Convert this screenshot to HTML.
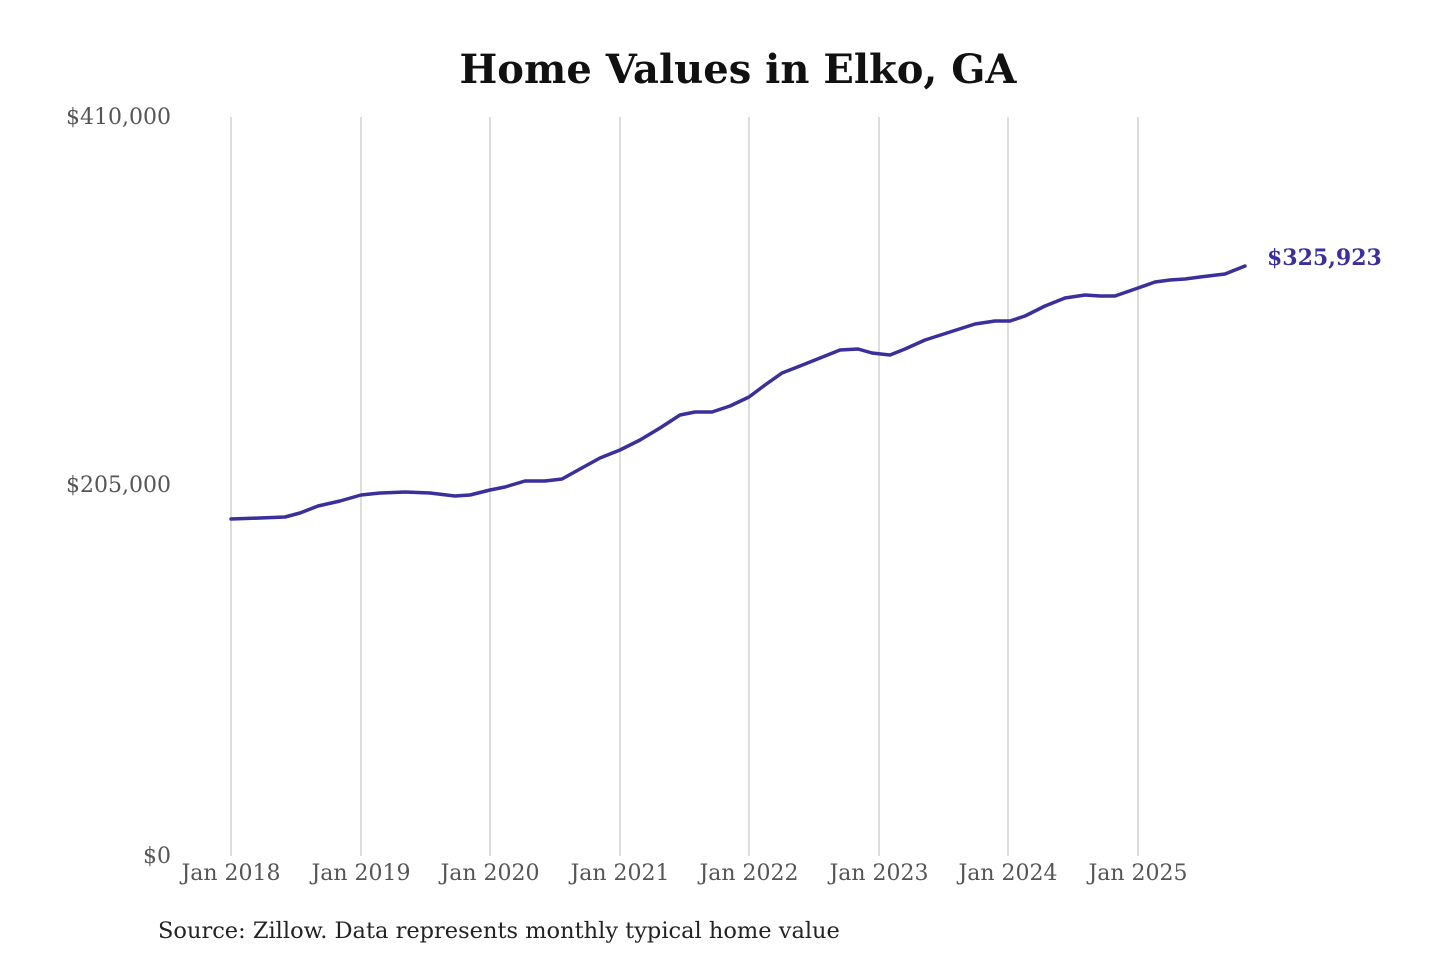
<!DOCTYPE html>
<html><head><meta charset="utf-8"><style>
html,body{margin:0;padding:0;background:#fff;}
svg{display:block;}
</style></head><body>
<svg width="1440" height="960" xmlns="http://www.w3.org/2000/svg" font-family="'DejaVu Serif','Liberation Serif',serif">
<text x="738" y="83" text-anchor="middle" font-size="40" font-weight="bold" fill="#111">Home Values in Elko, GA</text>
<g stroke="#bbb" stroke-width="1">
<line x1="231" y1="117" x2="231" y2="856"/>
<line x1="361" y1="117" x2="361" y2="856"/>
<line x1="490" y1="117" x2="490" y2="856"/>
<line x1="620" y1="117" x2="620" y2="856"/>
<line x1="749" y1="117" x2="749" y2="856"/>
<line x1="879" y1="117" x2="879" y2="856"/>
<line x1="1008" y1="117" x2="1008" y2="856"/>
<line x1="1138" y1="117" x2="1138" y2="856"/>
</g>
<g font-size="22" fill="#555" text-anchor="end">
<text x="171" y="124">$410,000</text>
<text x="171" y="492">$205,000</text>
<text x="171" y="863">$0</text>
</g>
<g font-size="22" fill="#555" text-anchor="middle">
<text x="231" y="880">Jan 2018</text>
<text x="361" y="880">Jan 2019</text>
<text x="490" y="880">Jan 2020</text>
<text x="620" y="880">Jan 2021</text>
<text x="749" y="880">Jan 2022</text>
<text x="879" y="880">Jan 2023</text>
<text x="1008" y="880">Jan 2024</text>
<text x="1138" y="880">Jan 2025</text>
</g>
<polyline fill="none" stroke="#3a2f9b" stroke-width="3.5" stroke-linejoin="round" stroke-linecap="round" points="231,519 260,518 285,517 300,513 318,506 340,501 361,495 380,493 405,492 430,493 455,496 470,495 490,490 505,487 525,481 545,481 562,479 580,469 600,458 620,450 640,440 660,428 680,415 695,412 712,412 730,406 749,397 765,385 782,373 800,366 820,358 840,350 858,349 872,353 890,355 905,349 925,340 950,332 975,324 995,321 1010,321 1025,316 1045,306 1065,298 1085,295 1100,296 1115,296 1138,288 1155,282 1170,280 1185,279 1200,277 1225,274 1245,266"/>
<text x="1267" y="265" font-size="22" font-weight="bold" fill="#3a2f9b">$325,923</text>
<text x="158" y="938" font-size="22.5" fill="#222">Source: Zillow. Data represents monthly typical home value</text>
</svg>
</body></html>
